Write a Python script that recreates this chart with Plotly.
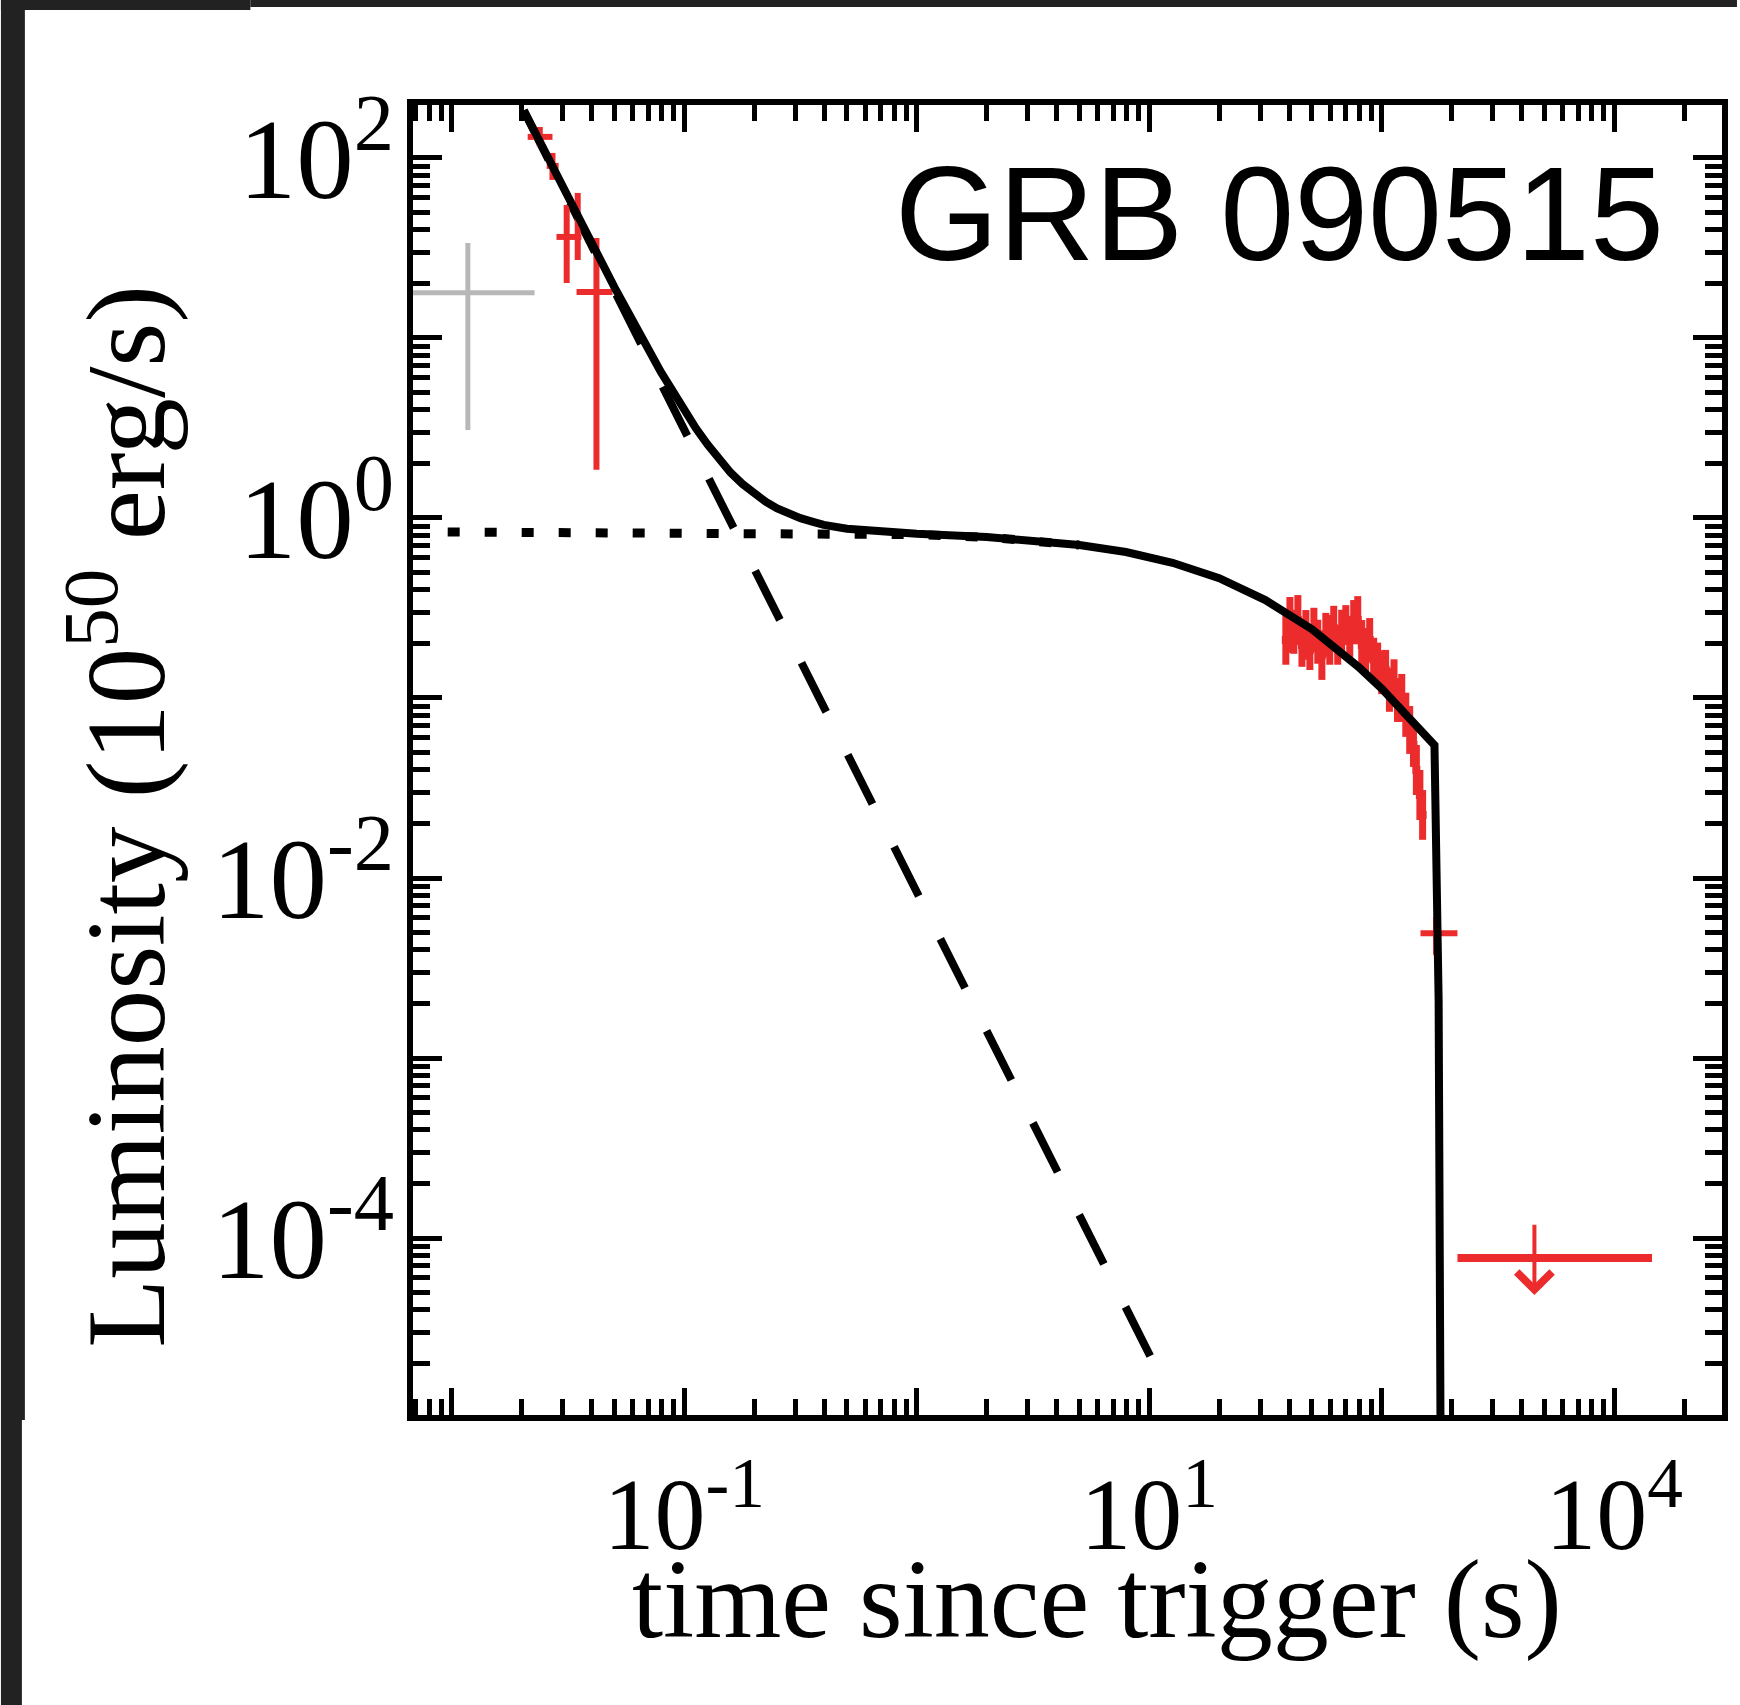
import numpy as np
import plotly.graph_objects as go

# ------------------------------------------------------------------ data
RED = "#ec2c2c"
GREY = "#b8b8b8"

# early (BAT) points
bat_t = [0.0239, 0.0271, 0.0312, 0.0348, 0.0419]
bat_t_lo = [0.0212, 0.0256, 0.0282, 0.0348, 0.0344]
bat_t_hi = [0.0271, 0.0288, 0.0361, 0.0348, 0.0491]
bat_L = [130.9, 90.3, 36.4, 41.9, 18.0]
bat_L_lo = [115.1, 75.5, 20.2, 27.1, 1.85]
bat_L_hi = [148.6, 106.6, 54.8, 63.9, 35.9]

# grey point
grey_t = [0.01172]
grey_t_lo = [0.004]
grey_t_hi = [0.0227]
grey_L = [17.8]
grey_L_lo = [3.08]
grey_L_hi = [33.7]

# XRT points
xrt_t = [38.7, 40.3, 41.9, 43.6, 45.4, 47.2, 49.1, 51.1, 53.1, 55.3, 57.5, 59.8,
         62.2, 64.7, 67.3, 70.1, 72.9, 75.8, 78.9, 82.1, 85.3, 88.8, 92.4, 96.1,
         100.0, 104.0, 108.0, 113.0, 117.0, 122.0, 127.0, 132.0, 137.0, 141.0,
         146.0, 150.0]
xrt_L = [0.210, 0.254, 0.233, 0.271, 0.197, 0.224, 0.185, 0.239, 0.205, 0.173,
         0.224, 0.210, 0.245, 0.197, 0.233, 0.254, 0.216, 0.264, 0.271, 0.197,
         0.185, 0.210, 0.163, 0.153, 0.139, 0.143, 0.111, 0.121, 0.0975, 0.100,
         0.0805, 0.0664, 0.0548, 0.0398, 0.0289, 0.0224]
xrt_L_lo = [0.153, 0.178, 0.176, 0.197, 0.149, 0.163, 0.143, 0.180, 0.155, 0.126,
            0.169, 0.153, 0.185, 0.153, 0.176, 0.197, 0.163, 0.199, 0.199, 0.143,
            0.140, 0.158, 0.123, 0.115, 0.105, 0.111, 0.0838, 0.0890, 0.0736,
            0.0736, 0.0608, 0.0489, 0.0414, 0.0289, 0.0210, 0.0163]
xrt_L_hi = [0.289, 0.364, 0.309, 0.373, 0.261, 0.308, 0.239, 0.317, 0.272, 0.238,
            0.297, 0.289, 0.325, 0.254, 0.309, 0.328, 0.286, 0.350, 0.368, 0.271,
            0.245, 0.278, 0.216, 0.203, 0.184, 0.185, 0.147, 0.164, 0.129, 0.136,
            0.107, 0.0902, 0.0726, 0.0548, 0.0398, 0.0308]

# late point
late_t = [170.6]
late_t_lo = [146.9]
late_t_hi = [211.8]
late_L = [4.94e-3]
late_L_lo = [3.73e-3]
late_L_hi = [6.07e-3]

# upper limit
ul_t = [454.0]
ul_t_lo = [211.8]
ul_t_hi = [1455.0]
ul_L = [7.74e-5]
ul_top = [1.21e-4]
ul_tip = [4.82e-5]

# model curves
model_t = [0.0204, 0.0316, 0.0501, 0.0794, 0.1, 0.1122, 0.126, 0.1413, 0.158,
           0.1778, 0.2, 0.2239, 0.251, 0.2818, 0.316, 0.3548, 0.398, 0.501,
           0.631, 0.794, 1.0, 2.0, 3.16, 5.01, 7.94, 12.6, 20.0, 31.6, 50.1,
           79.4, 100.0, 126.0, 150.0, 160.0, 168.7, 175.8, 179.1]
model_L = [184.0, 60.5, 19.1, 6.45, 3.95, 3.15, 2.56, 2.12, 1.79, 1.547, 1.365,
           1.23, 1.129, 1.054, 0.998, 0.955, 0.915, 0.872, 0.846, 0.829, 0.816,
           0.783, 0.752, 0.708, 0.647, 0.564, 0.463, 0.350, 0.241, 0.149,
           0.1127, 0.0832, 0.065, 0.0592, 0.0547, 0.0021, 0.000009]

pl_t = [0.0204, 10.3]
pl_L = [183.0, 2.1e-5]

plat_t = [0.0096, 0.1, 0.5, 1.0, 2.0, 5.0]
plat_L = [0.836, 0.833, 0.822, 0.808, 0.781, 0.708]

x_tickvals = [0.01, 0.1, 1, 10, 100, 1000]
x_ticktext = ["", "10<sup>-1</sup>", "", "10<sup>1</sup>", "", "10<sup>4</sup>"]
y_tickvals = [1e-5, 1e-4, 1e-3, 1e-2, 1e-1, 1, 10, 100]
y_ticktext = ["", "10<sup>-4</sup>", "", "10<sup>-2</sup>", "", "10<sup>0</sup>", "", "10<sup>2</sup>"]

# ------------------------------------------------------------------ helpers
def asym(c, lo, hi):
    return [h - v for v, h in zip(c, hi)], [v - l for v, l in zip(c, lo)]

W, H = 1740, 1705
ML, MR, MT, MB = 413, 15, 105, 290
PW, PH = W - ML - MR, H - MT - MB

def px(x):
    return (x - ML) / PW

def py(y):
    return (H - MB - y) / PH

fig = go.Figure()

fig.add_trace(go.Scatter(x=plat_t, y=plat_L, mode="lines",
                         line=dict(color="black", width=9, dash="12px,25px"),
                         showlegend=False))
fig.add_trace(go.Scatter(x=pl_t, y=pl_L, mode="lines",
                         line=dict(color="black", width=8, dash="55px,48px"),
                         showlegend=False))

# grey
gyp, gym = asym(grey_L, grey_L_lo, grey_L_hi)
gxp, gxm = asym(grey_t, grey_t_lo, grey_t_hi)
fig.add_trace(go.Scatter(x=grey_t, y=grey_L, mode="markers",
                         marker=dict(size=1, color=GREY),
                         error_y=dict(type="data", symmetric=False, array=gyp, arrayminus=gym,
                                      color=GREY, thickness=5, width=0),
                         error_x=dict(type="data", symmetric=False, array=gxp, arrayminus=gxm,
                                      color=GREY, thickness=5, width=0),
                         showlegend=False))

# BAT
byp, bym = asym(bat_L, bat_L_lo, bat_L_hi)
bxp, bxm = asym(bat_t, bat_t_lo, bat_t_hi)
fig.add_trace(go.Scatter(x=bat_t, y=bat_L, mode="markers",
                         marker=dict(size=1, color=RED),
                         error_y=dict(type="data", symmetric=False, array=byp, arrayminus=bym,
                                      color=RED, thickness=6, width=0),
                         error_x=dict(type="data", symmetric=False, array=bxp, arrayminus=bxm,
                                      color=RED, thickness=6, width=0),
                         showlegend=False))

# XRT
xyp, xym = asym(xrt_L, xrt_L_lo, xrt_L_hi)
fig.add_trace(go.Scatter(x=xrt_t, y=xrt_L, mode="markers",
                         marker=dict(size=8, color=RED, symbol="square", line=dict(width=0)),
                         error_y=dict(type="data", symmetric=False, array=xyp, arrayminus=xym,
                                      color=RED, thickness=7, width=0),
                         showlegend=False))

# late point
lyp, lym = asym(late_L, late_L_lo, late_L_hi)
lxp, lxm = asym(late_t, late_t_lo, late_t_hi)
fig.add_trace(go.Scatter(x=late_t, y=late_L, mode="markers",
                         marker=dict(size=1, color=RED),
                         error_y=dict(type="data", symmetric=False, array=lyp, arrayminus=lym,
                                      color=RED, thickness=5, width=0),
                         error_x=dict(type="data", symmetric=False, array=lxp, arrayminus=lxm,
                                      color=RED, thickness=6, width=0),
                         showlegend=False))

# upper limit horizontal bar
uxp, uxm = asym(ul_t, ul_t_lo, ul_t_hi)
fig.add_trace(go.Scatter(x=ul_t, y=ul_L, mode="markers",
                         marker=dict(size=1, color=RED),
                         error_x=dict(type="data", symmetric=False, array=uxp, arrayminus=uxm,
                                      color=RED, thickness=8, width=0),
                         showlegend=False))

# model (solid)
fig.add_trace(go.Scatter(x=model_t, y=model_L, mode="lines",
                         line=dict(color="black", width=8),
                         showlegend=False))

def minor_vals(d0, d1):
    return [m * 10.0 ** d for d in range(d0, d1) for m in range(2, 10)]

axis_common = dict(type="log", showgrid=False, zeroline=False, showline=True,
                   linecolor="black", linewidth=6, mirror="ticks",
                   ticks="inside", tickwidth=5, tickcolor="black",
                   tickmode="array")

fig.update_layout(
    width=W, height=H,
    margin=dict(l=ML, r=MR, t=MT, b=MB),
    paper_bgcolor="white", plot_bgcolor="white",
    xaxis=dict(range=[-2.167, 3.464], tickvals=x_tickvals, ticktext=x_ticktext,
               ticklen=27, ticklabelstandoff=6,
               tickfont=dict(family="Liberation Serif", size=102, color="black"),
               minor=dict(tickmode="array", tickvals=minor_vals(-3, 4), ticks="inside",
                          ticklen=16, tickwidth=5, tickcolor="black", showgrid=False),
               **axis_common),
    yaxis=dict(range=[-4.983, 2.294], tickvals=y_tickvals, ticktext=y_ticktext,
               ticklen=29, ticklabelstandoff=-10,
               tickfont=dict(family="Liberation Serif", size=115, color="black"),
               minor=dict(tickmode="array", tickvals=minor_vals(-6, 3), ticks="inside",
                          ticklen=17, tickwidth=5, tickcolor="black", showgrid=False),
               **axis_common),
)

annotations = [
    dict(text="GRB 090515", x=px(1669), y=py(214), xref="paper", yref="paper",
         xanchor="right", yanchor="middle", showarrow=False,
         font=dict(family="Liberation Sans", size=133, color="black")),
    dict(text="time since trigger (s)", x=px(1099), y=py(1599), xref="paper", yref="paper",
         xanchor="center", yanchor="middle", showarrow=False,
         font=dict(family="Liberation Serif", size=112, color="black")),
    dict(text="Luminosity (10<sup>50</sup> erg/s)", x=px(117), y=py(816),
         xref="paper", yref="paper", textangle=-90,
         xanchor="center", yanchor="middle", showarrow=False,
         font=dict(family="Liberation Serif", size=113, color="black")),
    dict(text="", x=np.log10(ul_t[0]), y=np.log10(ul_tip[0]), xref="x", yref="y",
         ax=np.log10(ul_t[0]), ay=np.log10(ul_top[0]), axref="x", ayref="y",
         showarrow=True, arrowhead=4, arrowsize=1.7, arrowwidth=4, arrowcolor=RED,
         standoff=0),
]
fig.update_layout(annotations=annotations)

DARK = "#222222"
shapes = [
    dict(type="rect", xref="paper", yref="paper", x0=px(0), x1=px(24), y0=py(0), y1=py(1420),
         fillcolor=DARK, line=dict(width=0)),
    dict(type="rect", xref="paper", yref="paper", x0=px(0), x1=px(21), y0=py(1420), y1=py(H),
         fillcolor=DARK, line=dict(width=0)),
    dict(type="rect", xref="paper", yref="paper", x0=px(0), x1=px(250), y0=py(0), y1=py(10),
         fillcolor=DARK, line=dict(width=0)),
    dict(type="rect", xref="paper", yref="paper", x0=px(250), x1=px(W), y0=py(0), y1=py(7),
         fillcolor=DARK, line=dict(width=0)),
]
fig.update_layout(shapes=shapes)

fig.write_html("out.html")
